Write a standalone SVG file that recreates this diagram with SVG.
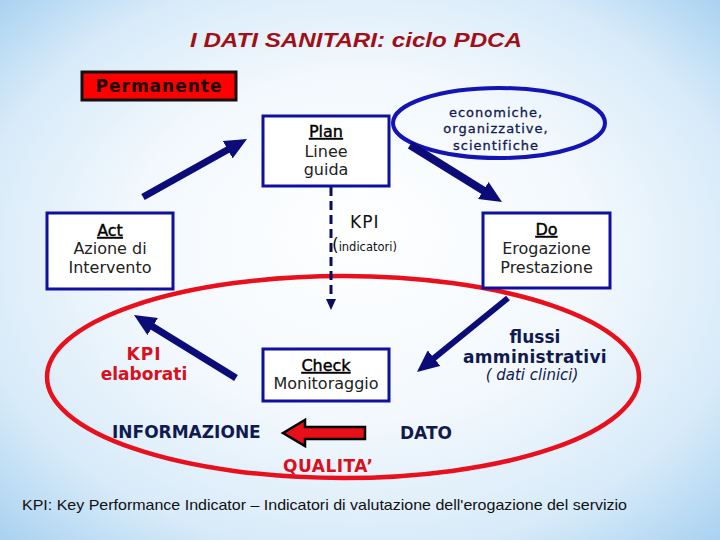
<svg xmlns="http://www.w3.org/2000/svg" width="720" height="540" viewBox="0 0 720 540">
  <defs>
    <radialGradient id="bg" cx="50%" cy="50%" r="72%" fx="50%" fy="42%">
      <stop offset="0" stop-color="#ffffff"/>
      <stop offset="0.45" stop-color="#f2f8fd"/>
      <stop offset="0.75" stop-color="#d8ebf9"/>
      <stop offset="1" stop-color="#a6d0f0"/>
    </radialGradient>
    <marker id="head" markerUnits="userSpaceOnUse" markerWidth="22" markerHeight="20" refX="6" refY="10" orient="auto">
      <path d="M0,0 L22,10 L0,20 z" fill="#0c0c78"/>
    </marker>
    <style>
      .box { fill: #ffffff; stroke: #1010a0; stroke-width: 3; }
      .ttl { font-family: "DejaVu Sans", Verdana, sans-serif; font-size: 16px; fill: #000; stroke: #000; stroke-width: 0.4; text-decoration: underline; text-anchor: middle; }
      .txt { font-family: "DejaVu Sans", Verdana, sans-serif; font-size: 16px; fill: #222; text-anchor: middle; }
      .arr { stroke: #0c0c78; fill: none; marker-end: url(#head); }
      .bold { font-family: "DejaVu Sans", Verdana, sans-serif; font-weight: bold; font-size: 17px; }
    </style>
  </defs>
  <rect x="0" y="0" width="720" height="540" fill="url(#bg)"/>

  <text x="190" y="47" font-family="'Liberation Sans', Arial, sans-serif" font-style="italic" font-weight="bold" font-size="20.5" fill="#a01018" textLength="332" lengthAdjust="spacingAndGlyphs">I DATI SANITARI: ciclo PDCA</text>

  <g id="permanente">
    <rect x="82" y="72" width="154" height="28" fill="#ff0000" stroke="#111" stroke-width="3"/>
    <text x="159" y="92" class="bold" font-size="16" fill="#1a0808" text-anchor="middle" letter-spacing="1">Permanente</text>
  </g>

  <g id="qualita-ellipse">
    <ellipse cx="343" cy="377" rx="296" ry="101" fill="none" stroke="#e8101c" stroke-width="4.5"/>
  </g>

  <g id="plan">
    <rect class="box" x="263" y="116" width="126" height="70"/>
    <text class="ttl" x="326" y="137">Plan</text>
    <text class="txt" x="326" y="157">Linee</text>
    <text class="txt" x="326" y="175">guida</text>
  </g>

  <g id="fonti">
    <ellipse cx="499" cy="123" rx="106" ry="35" fill="none" stroke="#1414b4" stroke-width="4"/>
    <g font-family="'DejaVu Sans', Verdana, sans-serif" font-size="13" fill="#101a50" stroke="#101a50" stroke-width="0.3" text-anchor="middle" letter-spacing="1">
      <text x="496" y="117">economiche,</text>
      <text x="496" y="133">organizzative,</text>
      <text x="496" y="150">scientifiche</text>
    </g>
  </g>

  <g id="act">
    <rect class="box" x="47" y="213" width="126" height="76"/>
    <text class="ttl" x="110" y="236">Act</text>
    <text class="txt" x="110" y="254">Azione di</text>
    <text class="txt" x="110" y="273">Intervento</text>
  </g>

  <g id="do">
    <rect class="box" x="483" y="213" width="127" height="75"/>
    <text class="ttl" x="546.5" y="235">Do</text>
    <text class="txt" x="546.5" y="254">Erogazione</text>
    <text class="txt" x="546.5" y="273">Prestazione</text>
  </g>

  <g id="kpi">
    <text x="350" y="228" font-family="'DejaVu Sans', Verdana, sans-serif" font-size="17" fill="#111" letter-spacing="1">KPI</text>
    <text x="332" y="251" font-family="'DejaVu Sans', Verdana, sans-serif" font-size="17" fill="#111">(<tspan font-size="11.5">indicatori)</tspan></text>
  </g>

  <g id="check">
    <rect class="box" x="263" y="349" width="126" height="52"/>
    <text class="ttl" x="326" y="371">Check</text>
    <text class="txt" x="326" y="389">Monitoraggio</text>
  </g>

  <g id="kpi-elaborati" class="bold" fill="#d81020" text-anchor="middle">
    <text x="144" y="360" letter-spacing="1">KPI</text>
    <text x="144" y="380">elaborati</text>
  </g>

  <g id="flussi" text-anchor="middle" fill="#101a50">
    <text class="bold" x="535" y="343">flussi</text>
    <text class="bold" x="535" y="363" letter-spacing="0.3">amministrativi</text>
    <text x="532" y="380" font-family="'DejaVu Sans', Verdana, sans-serif" font-style="italic" font-size="15">( dati clinici)</text>
  </g>

  <g id="informazione">
    <text class="bold" x="112" y="438" fill="#101a50">INFORMAZIONE</text>
  </g>
  <g id="dato">
    <text class="bold" x="400" y="439" fill="#101a50">DATO</text>
  </g>
  <g id="qualita">
    <text class="bold" x="283" y="472" fill="#d81020" letter-spacing="0.5">QUALITA’</text>
  </g>

  <g id="connectors">
    <line class="arr" x1="143" y1="197" x2="233" y2="146.8" stroke-width="7"/>
    <line class="arr" x1="410" y1="145" x2="488.4" y2="193.6" stroke-width="8"/>
    <line class="arr" x1="508" y1="298" x2="429.4" y2="361.9" stroke-width="6"/>
    <line class="arr" x1="236" y1="378" x2="147.6" y2="323.4" stroke-width="7"/>
    <line x1="331" y1="187" x2="331" y2="300" stroke="#0c0c5a" stroke-width="3" stroke-dasharray="9,5"/>
    <polygon points="326,299 336,299 331,310" fill="#0c0c5a"/>
    <polygon points="283,433 305,420 305,427 365,427 365,439 305,439 305,446" fill="#e81018" stroke="#000" stroke-width="2.5" stroke-linejoin="miter"/>
  </g>

  <text x="22" y="510" font-family="'Liberation Sans', Arial, sans-serif" font-size="14.5" fill="#111" textLength="605" lengthAdjust="spacingAndGlyphs">KPI: Key Performance Indicator – Indicatori di valutazione dell'erogazione del servizio</text>
</svg>
